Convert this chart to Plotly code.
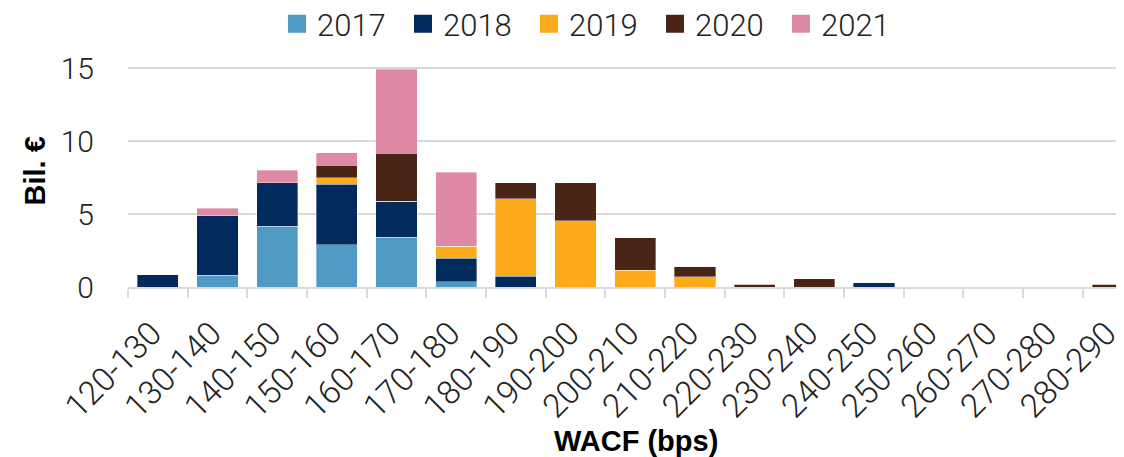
import plotly.graph_objects as go

categories = ["120-130", "130-140", "140-150", "150-160", "160-170", "170-180",
              "180-190", "190-200", "200-210", "210-220", "220-230", "230-240",
              "240-250", "250-260", "260-270", "270-280", "280-290"]
years = ["2017", "2018", "2019", "2020", "2021"]
v2017 = [0, 0.80, 4.16, 2.90, 3.41, 0.36, 0, 0, 0, 0, 0, 0, 0, 0, 0, 0, 0]
v2018 = [0.85, 4.10, 2.99, 4.16, 2.48, 1.61, 0.74, 0, 0, 0, 0, 0, 0.28, 0, 0, 0, 0]
v2019 = [0, 0, 0, 0.43, 0, 0.82, 5.33, 4.55, 1.15, 0.69, 0, 0, 0, 0, 0, 0, 0]
v2020 = [0, 0, 0, 0.88, 3.28, 0, 1.10, 2.62, 2.23, 0.69, 0.20, 0.55, 0, 0, 0, 0, 0.20]
v2021 = [0, 0.50, 0.85, 0.83, 5.78, 5.10, 0, 0, 0, 0, 0, 0, 0, 0, 0, 0, 0]
series = [v2017, v2018, v2019, v2020, v2021]
colors = ["#4E9AC2", "#002B5C", "#FDAA1B", "#4A2414", "#DE8AA5"]

YTICK_FONT = dict(family="Roboto", size=30, color="#222222", weight=300)
XTICK_FONT = dict(family="Roboto", size=33, color="#222222", weight=300)
TITLE_FONT = dict(family="Liberation Sans", size=29, color="#000000", weight="bold")

fig = go.Figure()
for name, vals, col in zip(years, series, colors):
    fig.add_trace(go.Bar(
        x=categories, y=vals, name=name, legendgroup=name, showlegend=False,
        marker=dict(color=col, line=dict(color="rgba(255,255,255,0.6)", width=0.6)),
    ))
# legend entries with larger square symbols
for name, col in zip(years, colors):
    fig.add_trace(go.Scatter(
        x=[None], y=[None], mode="markers", name=name, legendgroup=name,
        marker=dict(symbol="square", size=16, color=col, line=dict(color=col, width=2)),
    ))

# page body has an 8px default margin, so the figure is 8px smaller
fig.update_layout(
    width=1116, height=449,
    barmode="stack", bargap=0.31,
    plot_bgcolor="white", paper_bgcolor="white",
    margin=dict(l=120, r=0, t=56, b=170, autoexpand=False),
    font=YTICK_FONT,
    legend=dict(
        orientation="h", xref="container", yref="paper",
        x=269 / 1116, xanchor="left", y=1.30, yanchor="top",
        font=dict(family="Roboto", size=31, color="#222222", weight=300),
        entrywidth=81, entrywidthmode="pixels",
        bgcolor="rgba(0,0,0,0)",
    ),
    xaxis=dict(
        type="category", range=[-0.5, 16.19], automargin=False,
        tickson="boundaries", ticks="outside", ticklen=9, tickwidth=1.5,
        tickcolor="#d9d9d9", showline=True, linecolor="#d9d9d9", linewidth=1.5,
        tickangle=-45, tickfont=XTICK_FONT, showgrid=False,
        ticklabelstandoff=12, ticklabelshift=-6,
    ),
    yaxis=dict(
        range=[0, 15.3], tickvals=[0, 5, 10, 15], ticks="", automargin=False,
        showgrid=True, gridcolor="#d9d9d9", gridwidth=1.5,
        zeroline=False, showline=False, tickfont=YTICK_FONT,
        ticklabelstandoff=33,
    ),
    annotations=[
        dict(text="Bil. €", xref="paper", yref="paper", x=(35 - 128) / 996, y=0.518,
             xanchor="center", yanchor="middle", textangle=-90, showarrow=False,
             font=TITLE_FONT),
        dict(text="WACF (bps)", xref="paper", yref="paper", x=(635.5 - 128) / 996, y=-0.69,
             xanchor="center", yanchor="middle", showarrow=False, font=TITLE_FONT),
    ],
)

fig.write_html("out.html")
